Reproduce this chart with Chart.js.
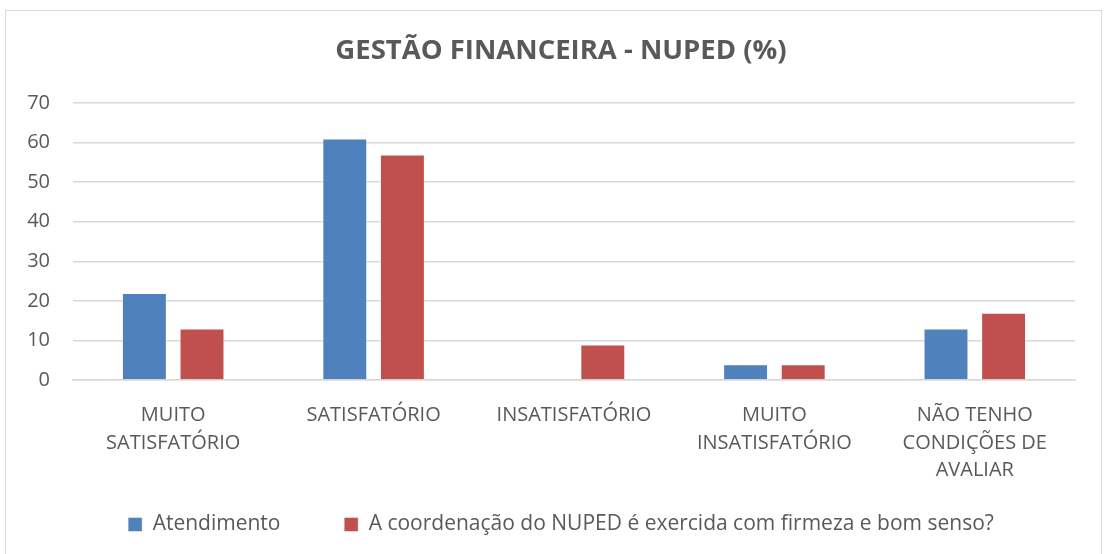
<!DOCTYPE html>
<html>
<head>
<meta charset="utf-8">
<script src="https://cdn.jsdelivr.net/npm/chart.js@4"></script>
<style>
  body { margin: 0; background: #fff; }
  #box {
    position: absolute; left: 5px; top: 10px;
    width: 1097px; height: 544px;
    border: 1px solid #d9d9d9; border-bottom: none;
    box-sizing: border-box;
  }
</style>
</head>
<body>
<div id="box"><canvas id="grafico"></canvas></div>
<script>
// dados do gráfico
const categorias = [
    ["MUITO", "SATISFATÓRIO"],
    "SATISFATÓRIO",
    "INSATISFATÓRIO",
    ["MUITO", "INSATISFATÓRIO"],
    ["NÃO TENHO", "CONDIÇÕES DE", "AVALIAR"]
];
const atendimento = [22, 61, 0, 4, 13];
const coordenacao = [13, 57, 9, 4, 17];
const nomesSeries = ["Atendimento", "A coordenação do NUPED é exercida com firmeza e bom senso?"];
const tituloGrafico = "GESTÃO FINANCEIRA - NUPED (%)";

const fonte = "'Open Sans', sans-serif";
const cinza = "#595959";

const ctx = document.getElementById("grafico").getContext("2d");
const grafico = new Chart(ctx, {
    type: "bar",
    data: {
        labels: categorias,
        datasets: [
            {
                label: nomesSeries[0],
                data: atendimento,
                backgroundColor: "#4F81BD",
                borderColor: "rgba(255, 255, 255, 0.45)",
                borderWidth: 1,
            },
            {
                label: nomesSeries[1],
                data: coordenacao,
                backgroundColor: "#C0504D",
                borderColor: "rgba(255, 255, 255, 0.45)",
                borderWidth: 1,
            },
        ],
    },
    options: {
        responsive: true,
        maintainAspectRatio: false,
        animation: false,
        datasets: {
            bar: {
                categoryPercentage: 0.575,
                barPercentage: 0.78,
            },
        },
        layout: {
            padding: { left: 16, right: 1, top: 0, bottom: 9 },
        },
        plugins: {
            title: {
                display: true,
                text: tituloGrafico,
                color: cinza,
                font: { family: fonte, size: 27.5, weight: "bold" },
                padding: { top: 23.5, bottom: 35.5 },
            },
            legend: {
                position: "bottom",
                labels: {
                    color: cinza,
                    font: { family: fonte, size: 21 },
                    boxWidth: 14,
                    boxHeight: 14,
                    padding: 31,
                    generateLabels: function (chart) {
                        const itens = Chart.defaults.plugins.legend.labels.generateLabels(chart);
                        // espaço extra entre os itens da legenda
                        itens[0].text = itens[0].text + "      ";
                        return itens;
                    },
                },
            },
            tooltip: { enabled: false },
        },
        scales: {
            x: {
                grid: { display: false },
                border: { color: "#d9d9d9", width: 1.5 },
                ticks: {
                    color: cinza,
                    font: { family: fonte, size: 20, lineHeight: 1.37 },
                    maxRotation: 0,
                    autoSkip: false,
                    padding: 14,
                },
                afterFit: function (scale) {
                    scale.height = 103;
                },
            },
            y: {
                min: 0,
                max: 70,
                border: { display: false },
                grid: { color: "#d9d9d9", lineWidth: 1.5, drawTicks: false },
                ticks: {
                    stepSize: 10,
                    color: cinza,
                    font: { family: fonte, size: 20 },
                    padding: 23,
                },
                afterFit: function (scale) {
                    scale.width = 51;
                },
            },
            margem: {
                position: "right",
                grid: { display: false },
                border: { display: false },
                ticks: { display: false },
                afterFit: function (scale) {
                    scale.width = 25;
                },
            },
        },
    },
});
</script>
</body>
</html>
